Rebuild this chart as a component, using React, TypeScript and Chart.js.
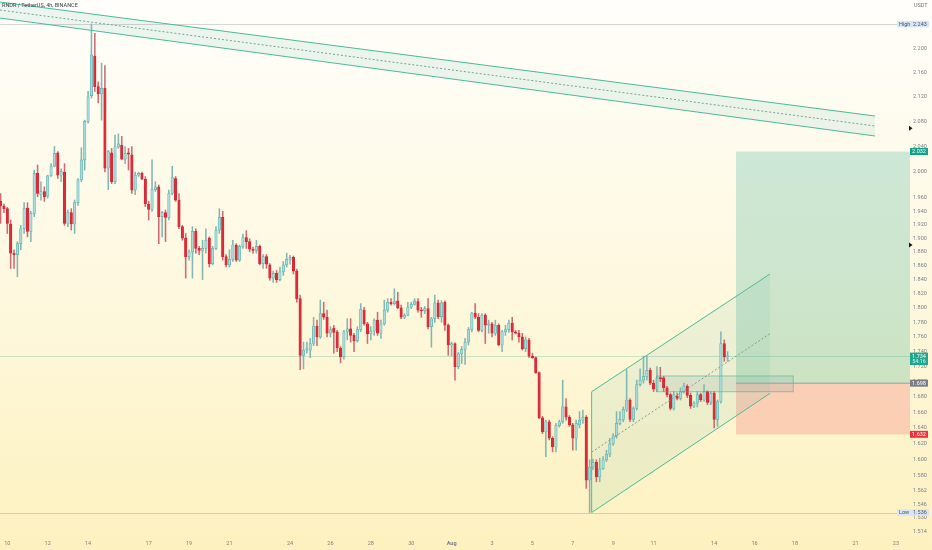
import React, { useEffect, useRef } from 'react';
import { Chart, registerables } from 'chart.js';

Chart.register(...registerables);

const TITLE = 'RNDR / TetherUS, 4h, BINANCE';
const CURRENCY = 'USDT';
const FONT = "Roboto, 'Liberation Sans', sans-serif";

// candle index 0 = 10 Jul 00:00, one unit = one 4h candle
const FIRST_INDEX = -2;
const OPEN = [
  1.955, 1.948, 1.944, 1.921, 1.878, 1.876, 1.892, 1.914, 1.945, 1.910,
  1.937, 1.998, 1.965, 1.970, 1.963, 1.994, 2.009, 2.030, 1.995, 2.000,
  1.921, 1.938, 1.921, 1.953, 1.988, 2.019, 2.080, 2.122, 2.188, 2.137,
  2.125, 2.134, 2.006, 2.030, 1.985, 2.039, 2.042, 2.020, 2.030, 2.027,
  1.972, 1.995, 1.998, 1.989, 1.951, 1.943, 1.973, 1.977, 1.932, 1.938,
  1.931, 1.967, 1.990, 1.957, 1.917, 1.900, 1.873, 1.880, 1.910, 1.885,
  1.882, 1.885, 1.900, 1.863, 1.885, 1.912, 1.931, 1.873, 1.861, 1.869,
  1.890, 1.868, 1.888, 1.901, 1.895, 1.884, 1.882, 1.888, 1.863, 1.873,
  1.861, 1.842, 1.849, 1.840, 1.851, 1.861, 1.869, 1.872, 1.852, 1.813,
  1.735, 1.742, 1.742, 1.751, 1.775, 1.760, 1.792, 1.787, 1.765, 1.772,
  1.767, 1.745, 1.733, 1.767, 1.771, 1.762, 1.755, 1.770, 1.797, 1.778,
  1.764, 1.768, 1.783, 1.765, 1.778, 1.797, 1.808, 1.806, 1.810, 1.800,
  1.787, 1.790, 1.801, 1.805, 1.809, 1.797, 1.796, 1.799, 1.774, 1.785,
  1.807, 1.788, 1.808, 1.776, 1.749, 1.751, 1.720, 1.737, 1.743, 1.753,
  1.770, 1.793, 1.787, 1.769, 1.790, 1.776, 1.778, 1.765, 1.776, 1.749,
  1.767, 1.770, 1.779, 1.767, 1.765, 1.760, 1.744, 1.756, 1.734, 1.732,
  1.712, 1.653, 1.635, 1.648, 1.627, 1.616, 1.643, 1.648, 1.667, 1.654,
  1.644, 1.627, 1.644, 1.650, 1.654, 1.575, 1.591, 1.597, 1.579, 1.589,
  1.600, 1.607, 1.620, 1.630, 1.646, 1.651, 1.664, 1.676, 1.651, 1.665,
  1.696, 1.702, 1.707, 1.715, 1.698, 1.690, 1.705, 1.705, 1.692, 1.683,
  1.665, 1.681, 1.678, 1.687, 1.694, 1.682, 1.668, 1.672, 1.683, 1.676,
  1.687, 1.673, 1.685, 1.651, 1.674, 1.751, 1.733,
];
const HIGH = [
  1.967, 1.951, 1.946, 1.927, 1.883, 1.895, 1.919, 1.953, 1.953, 1.940,
  2.003, 2.011, 1.985, 1.977, 1.995, 2.013, 2.040, 2.032, 2.005, 2.013,
  1.942, 1.944, 1.957, 1.990, 2.038, 2.082, 2.129, 2.243, 2.227, 2.145,
  2.176, 2.172, 2.034, 2.037, 2.058, 2.060, 2.056, 2.040, 2.037, 2.040,
  2.000, 2.000, 2.000, 1.993, 1.955, 2.019, 1.985, 1.980, 1.940, 1.942,
  1.972, 2.009, 1.993, 1.967, 1.919, 1.907, 1.883, 1.917, 1.914, 1.888,
  1.897, 1.914, 1.902, 1.888, 1.917, 1.944, 1.940, 1.876, 1.883, 1.897,
  1.892, 1.890, 1.906, 1.911, 1.899, 1.887, 1.897, 1.890, 1.876, 1.876,
  1.863, 1.852, 1.853, 1.858, 1.866, 1.878, 1.875, 1.874, 1.855, 1.818,
  1.753, 1.753, 1.758, 1.787, 1.783, 1.811, 1.808, 1.797, 1.774, 1.776,
  1.769, 1.747, 1.769, 1.785, 1.785, 1.765, 1.774, 1.806, 1.801, 1.780,
  1.774, 1.785, 1.794, 1.783, 1.811, 1.813, 1.813, 1.827, 1.822, 1.804,
  1.792, 1.808, 1.808, 1.813, 1.813, 1.801, 1.802, 1.813, 1.787, 1.818,
  1.811, 1.810, 1.810, 1.778, 1.753, 1.752, 1.739, 1.747, 1.758, 1.773,
  1.794, 1.806, 1.792, 1.792, 1.792, 1.783, 1.780, 1.783, 1.778, 1.769,
  1.776, 1.783, 1.787, 1.769, 1.769, 1.765, 1.760, 1.758, 1.738, 1.733,
  1.713, 1.655, 1.650, 1.650, 1.629, 1.646, 1.650, 1.702, 1.678, 1.656,
  1.646, 1.650, 1.661, 1.663, 1.656, 1.600, 1.601, 1.600, 1.602, 1.604,
  1.612, 1.627, 1.633, 1.661, 1.661, 1.667, 1.716, 1.678, 1.667, 1.702,
  1.717, 1.734, 1.734, 1.718, 1.702, 1.720, 1.719, 1.707, 1.694, 1.685,
  1.687, 1.685, 1.692, 1.698, 1.696, 1.685, 1.674, 1.687, 1.685, 1.696,
  1.688, 1.687, 1.687, 1.676, 1.767, 1.756, 1.740,
];
const LOW = [
  1.922, 1.938, 1.907, 1.856, 1.856, 1.844, 1.883, 1.907, 1.902, 1.895,
  1.932, 1.962, 1.957, 1.955, 1.960, 1.993, 2.008, 1.990, 1.985, 1.919,
  1.917, 1.912, 1.907, 1.949, 1.985, 2.003, 2.077, 2.118, 2.129, 2.110,
  2.082, 2.000, 1.973, 1.982, 1.982, 2.037, 2.019, 2.013, 2.003, 1.967,
  1.965, 1.993, 1.988, 1.947, 1.927, 1.940, 1.970, 1.892, 1.902, 1.895,
  1.927, 1.965, 1.955, 1.914, 1.897, 1.842, 1.868, 1.842, 1.878, 1.876,
  1.840, 1.878, 1.858, 1.861, 1.883, 1.907, 1.868, 1.858, 1.858, 1.866,
  1.866, 1.866, 1.885, 1.885, 1.880, 1.878, 1.878, 1.861, 1.856, 1.856,
  1.839, 1.836, 1.836, 1.838, 1.846, 1.858, 1.862, 1.848, 1.808, 1.716,
  1.717, 1.738, 1.732, 1.748, 1.748, 1.758, 1.784, 1.760, 1.760, 1.738,
  1.740, 1.725, 1.730, 1.756, 1.753, 1.740, 1.753, 1.767, 1.776, 1.751,
  1.756, 1.762, 1.762, 1.758, 1.776, 1.794, 1.804, 1.804, 1.799, 1.785,
  1.785, 1.789, 1.799, 1.804, 1.794, 1.787, 1.792, 1.771, 1.746, 1.780,
  1.785, 1.780, 1.769, 1.735, 1.734, 1.702, 1.717, 1.724, 1.723, 1.749,
  1.767, 1.785, 1.767, 1.767, 1.751, 1.765, 1.760, 1.762, 1.748, 1.740,
  1.762, 1.766, 1.756, 1.764, 1.753, 1.742, 1.740, 1.732, 1.731, 1.711,
  1.652, 1.633, 1.604, 1.625, 1.610, 1.610, 1.641, 1.646, 1.650, 1.642,
  1.612, 1.612, 1.640, 1.646, 1.565, 1.536, 1.588, 1.573, 1.573, 1.588,
  1.598, 1.604, 1.618, 1.627, 1.644, 1.648, 1.661, 1.648, 1.648, 1.663,
  1.694, 1.698, 1.702, 1.696, 1.687, 1.687, 1.700, 1.687, 1.680, 1.663,
  1.663, 1.676, 1.676, 1.685, 1.679, 1.665, 1.666, 1.667, 1.674, 1.674,
  1.670, 1.670, 1.640, 1.642, 1.672, 1.727, 1.727,
];
const CLOSE = [
  1.948, 1.944, 1.922, 1.878, 1.876, 1.892, 1.914, 1.944, 1.910, 1.937,
  1.998, 1.967, 1.970, 1.962, 1.994, 2.009, 2.029, 1.995, 2.001, 1.922,
  1.938, 1.921, 1.953, 1.988, 2.019, 2.080, 2.120, 2.190, 2.137, 2.125,
  2.134, 2.006, 2.032, 1.985, 2.040, 2.044, 2.020, 2.029, 2.028, 1.972,
  1.995, 1.998, 1.989, 1.951, 1.943, 1.973, 1.977, 1.932, 1.938, 1.931,
  1.967, 1.992, 1.957, 1.917, 1.900, 1.873, 1.880, 1.910, 1.885, 1.882,
  1.885, 1.897, 1.863, 1.885, 1.912, 1.931, 1.873, 1.861, 1.869, 1.890,
  1.868, 1.888, 1.901, 1.895, 1.884, 1.882, 1.888, 1.863, 1.873, 1.862,
  1.842, 1.849, 1.840, 1.851, 1.861, 1.869, 1.872, 1.852, 1.813, 1.735,
  1.742, 1.744, 1.751, 1.775, 1.760, 1.792, 1.787, 1.765, 1.770, 1.766,
  1.745, 1.733, 1.767, 1.771, 1.762, 1.755, 1.770, 1.798, 1.778, 1.764,
  1.768, 1.783, 1.765, 1.778, 1.797, 1.808, 1.806, 1.809, 1.800, 1.787,
  1.790, 1.801, 1.805, 1.810, 1.797, 1.796, 1.799, 1.774, 1.785, 1.807,
  1.788, 1.807, 1.776, 1.749, 1.751, 1.720, 1.737, 1.743, 1.753, 1.770,
  1.793, 1.787, 1.769, 1.790, 1.776, 1.778, 1.765, 1.776, 1.749, 1.767,
  1.770, 1.779, 1.767, 1.765, 1.760, 1.744, 1.756, 1.734, 1.732, 1.712,
  1.653, 1.635, 1.648, 1.627, 1.616, 1.643, 1.648, 1.667, 1.654, 1.644,
  1.627, 1.646, 1.650, 1.654, 1.575, 1.591, 1.597, 1.579, 1.589, 1.600,
  1.607, 1.620, 1.630, 1.646, 1.651, 1.664, 1.676, 1.651, 1.665, 1.696,
  1.702, 1.707, 1.715, 1.698, 1.690, 1.705, 1.704, 1.692, 1.683, 1.665,
  1.683, 1.678, 1.687, 1.694, 1.682, 1.668, 1.672, 1.683, 1.676, 1.687,
  1.673, 1.685, 1.651, 1.674, 1.751, 1.733, 1.734,
];

const X_TICK_INDEX = [0, 12, 24, 42, 54, 66, 84, 96, 108, 120, 132, 144, 156, 168, 180, 192, 210, 222, 234, 252, 264];
const X_TICK_LABEL = ['10', '12', '14', '17', '19', '21', '24', '26', '28', '30', 'Aug', '3', '5', '7', '9', '11', '14', '16', '18', '21', '23'];
const Y_TICKS = [2.2, 2.16, 2.12, 2.08, 2.04, 2.0, 1.96, 1.94, 1.92, 1.9, 1.88, 1.86, 1.84, 1.82, 1.8, 1.78, 1.76, 1.74, 1.72, 1.7, 1.68, 1.66, 1.64, 1.62, 1.6, 1.58, 1.562, 1.546, 1.53, 1.514];
const X_RANGE = [-2.169, 268.18];
const Y_RANGE = [1.5083, 2.2853];

// drawings (candle index, price)
const DESC_X = [-2.2, 257.8];
const DESC_UPPER = [2.2817, 2.0887];
const DESC_LOWER = [2.2536, 2.0566];
const ASC_X = [173.6, 226.6];
const ASC_UPPER = [1.6868, 1.848];
const ASC_LOWER = [1.536, 1.6847];
const POSITION_X = [216.5, 272];
const TARGET = 2.032;
const ENTRY = 1.698;
const STOP = 1.632;
const RANGE_X = [192.9, 233.5];
const RANGE_P = [1.7075, 1.6868];
const HIGH_PRICE = 2.243;
const LOW_PRICE = 1.536;
const LAST_PRICE = 1.734;
const COUNTDOWN = '54:16';
const MARKER_PRICES = [2.069, 1.89];

const fmt = (v: number) => v.toFixed(3);

const decor = {
  id: 'decor',
  beforeDraw(chart: any) {
    const { ctx, width, height } = chart;
    const g = ctx.createLinearGradient(0, 0, 0, height);
    g.addColorStop(0, '#fffefa');
    g.addColorStop(0.45, '#fef9e3');
    g.addColorStop(1, '#fdf1bf');
    ctx.save();
    ctx.fillStyle = g;
    ctx.fillRect(0, 0, width, height);
    ctx.restore();
  },
  beforeDatasetsDraw(chart: any) {
    const { ctx, chartArea: a } = chart;
    const xs = chart.scales.x;
    const ys = chart.scales.y;
    const X = (i: number) => xs.getPixelForValue(i);
    const Y = (p: number) => ys.getPixelForValue(p);
    ctx.save();
    ctx.beginPath();
    ctx.rect(a.left, a.top, a.right - a.left, a.bottom - a.top);
    ctx.clip();
    // position box
    ctx.fillStyle = 'rgba(8,153,129,0.2)';
    ctx.fillRect(X(POSITION_X[0]), Y(TARGET), X(POSITION_X[1]) - X(POSITION_X[0]), Y(ENTRY) - Y(TARGET));
    ctx.fillStyle = 'rgba(242,54,69,0.2)';
    ctx.fillRect(X(POSITION_X[0]), Y(ENTRY), X(POSITION_X[1]) - X(POSITION_X[0]), Y(STOP) - Y(ENTRY));
    // descending channel fill
    ctx.fillStyle = 'rgba(34,171,148,0.09)';
    ctx.beginPath();
    ctx.moveTo(X(DESC_X[0]), Y(DESC_UPPER[0]));
    ctx.lineTo(X(DESC_X[1]), Y(DESC_UPPER[1]));
    ctx.lineTo(X(DESC_X[1]), Y(DESC_LOWER[1]));
    ctx.lineTo(X(DESC_X[0]), Y(DESC_LOWER[0]));
    ctx.closePath();
    ctx.fill();
    // ascending channel fill
    ctx.fillStyle = 'rgba(34,171,148,0.08)';
    ctx.beginPath();
    ctx.moveTo(X(ASC_X[0]), Y(ASC_UPPER[0]));
    ctx.lineTo(X(ASC_X[1]), Y(ASC_UPPER[1]));
    ctx.lineTo(X(ASC_X[1]), Y(ASC_LOWER[1]));
    ctx.lineTo(X(ASC_X[0]), Y(ASC_LOWER[0]));
    ctx.closePath();
    ctx.fill();
    // range rectangle
    ctx.fillStyle = 'rgba(110,160,160,0.16)';
    ctx.fillRect(X(RANGE_X[0]), Y(RANGE_P[0]), X(RANGE_X[1]) - X(RANGE_X[0]), Y(RANGE_P[1]) - Y(RANGE_P[0]));
    // horizontal lines
    ctx.lineWidth = 1;
    ctx.strokeStyle = 'rgba(120,123,134,0.3)';
    [HIGH_PRICE, LOW_PRICE].forEach((p) => {
      const y = Math.round(Y(p)) + 0.5;
      ctx.beginPath();
      ctx.moveTo(a.left, y);
      ctx.lineTo(a.right, y);
      ctx.stroke();
    });
    ctx.strokeStyle = 'rgba(60,160,140,0.25)';
    const yl = Math.round(Y(LAST_PRICE)) + 0.5;
    ctx.beginPath();
    ctx.moveTo(a.left, yl);
    ctx.lineTo(a.right, yl);
    ctx.stroke();
    ctx.restore();
  },
  afterDatasetsDraw(chart: any) {
    const { ctx, chartArea: a } = chart;
    const xs = chart.scales.x;
    const ys = chart.scales.y;
    const X = (i: number) => xs.getPixelForValue(i);
    const Y = (p: number) => ys.getPixelForValue(p);
    ctx.save();
    ctx.beginPath();
    ctx.rect(a.left, a.top, a.right - a.left, a.bottom - a.top);
    ctx.clip();
    const line = (x0: number, y0: number, x1: number, y1: number) => {
      ctx.beginPath();
      ctx.moveTo(x0, y0);
      ctx.lineTo(x1, y1);
      ctx.stroke();
    };
    // descending channel
    ctx.strokeStyle = '#4db89e';
    ctx.lineWidth = 1;
    line(X(DESC_X[0]), Y(DESC_UPPER[0]), X(DESC_X[1]), Y(DESC_UPPER[1]));
    line(X(DESC_X[0]), Y(DESC_LOWER[0]), X(DESC_X[1]), Y(DESC_LOWER[1]));
    ctx.setLineDash([2, 2]);
    ctx.strokeStyle = '#7c9f98';
    line(X(DESC_X[0]), (Y(DESC_UPPER[0]) + Y(DESC_LOWER[0])) / 2, X(DESC_X[1]), (Y(DESC_UPPER[1]) + Y(DESC_LOWER[1])) / 2);
    line(X(ASC_X[0]), (Y(ASC_UPPER[0]) + Y(ASC_LOWER[0])) / 2, X(ASC_X[1]), (Y(ASC_UPPER[1]) + Y(ASC_LOWER[1])) / 2);
    ctx.setLineDash([]);
    // ascending channel
    ctx.strokeStyle = '#4dbb9c';
    line(X(ASC_X[0]), Y(ASC_UPPER[0]), X(ASC_X[1]), Y(ASC_UPPER[1]));
    line(X(ASC_X[0]), Y(ASC_LOWER[0]), X(ASC_X[1]), Y(ASC_LOWER[1]));
    line(X(ASC_X[0]), Y(ASC_UPPER[0]), X(ASC_X[0]), Y(ASC_LOWER[0]));
    // range rectangle border
    ctx.strokeStyle = 'rgba(70,170,150,0.55)';
    ctx.strokeRect(X(RANGE_X[0]), Y(RANGE_P[0]), X(RANGE_X[1]) - X(RANGE_X[0]), Y(RANGE_P[1]) - Y(RANGE_P[0]));
    // entry line
    ctx.strokeStyle = '#9a9ca5';
    line(X(POSITION_X[0]), Y(ENTRY), X(POSITION_X[1]), Y(ENTRY));
    ctx.restore();
  },
  afterDraw(chart: any) {
    const { ctx, chartArea: a } = chart;
    const ys = chart.scales.y;
    const Y = (p: number) => ys.getPixelForValue(p);
    const r = a.right;
    ctx.save();
    ctx.font = `5.5px ${FONT}`;
    ctx.textBaseline = 'middle';
    // title + currency
    ctx.fillStyle = '#3b3f4a';
    ctx.textAlign = 'left';
    ctx.fillText(TITLE, 2, 5.5);
    ctx.fillStyle = '#6f727c';
    ctx.fillText(CURRENCY, r + 4, 6);
    const priceTag = (p: number, bg: string, fg: string) => {
      const y = Y(p);
      ctx.fillStyle = bg;
      ctx.fillRect(r, y - 3.5, 18, 7);
      ctx.fillStyle = fg;
      ctx.textAlign = 'center';
      ctx.fillText(fmt(p), r + 9, y + 0.2);
    };
    const hlTag = (p: number, word: string) => {
      const y = Y(p);
      ctx.fillStyle = '#d7e6f5';
      ctx.fillRect(r - 13, y - 3.3, 32, 6.6);
      ctx.fillStyle = '#4e5260';
      ctx.textAlign = 'left';
      ctx.fillText(word, r - 11, y + 0.2);
      ctx.fillText(fmt(p), r + 3, y + 0.2);
    };
    hlTag(HIGH_PRICE, 'High');
    hlTag(LOW_PRICE, 'Low');
    priceTag(TARGET, '#12a086', '#ffffff');
    priceTag(ENTRY, '#7b7e89', '#ffffff');
    priceTag(STOP, '#f0323f', '#ffffff');
    // last price with countdown
    const yl = Y(LAST_PRICE);
    ctx.fillStyle = '#1fa68e';
    ctx.fillRect(r, yl - 3.5, 18, 12.5);
    ctx.fillStyle = '#ffffff';
    ctx.textAlign = 'center';
    ctx.fillText(fmt(LAST_PRICE), r + 9, yl + 0.2);
    ctx.fillStyle = '#d8f2ec';
    ctx.fillText(COUNTDOWN, r + 9, yl + 6);
    // markers
    ctx.fillStyle = '#131722';
    MARKER_PRICES.forEach((p) => {
      const y = Y(p);
      ctx.beginPath();
      ctx.moveTo(r - 1, y - 2.5);
      ctx.lineTo(r + 2.5, y);
      ctx.lineTo(r - 1, y + 2.5);
      ctx.closePath();
      ctx.fill();
    });
    ctx.restore();
  },
};

export default function App() {
  const ref = useRef<HTMLCanvasElement>(null);
  useEffect(() => {
    document.body.style.margin = '0';
    const canvas = ref.current;
    if (!canvas) return;
    const idx = OPEN.map((_, k) => FIRST_INDEX + k);
    const up = OPEN.map((o, k) => CLOSE[k] >= o);
    const chart = new Chart(canvas, {
      type: 'bar',
      data: {
        datasets: [
          {
            data: idx.map((x, k) => ({ x, y: [OPEN[k], CLOSE[k]] })) as any,
            backgroundColor: up.map((u) => (u ? '#a8dbdc' : '#dd2c39')),
            borderColor: up.map((u) => (u ? '#5fb3ad' : '#d22633')),
            borderWidth: 0.7,
            borderSkipped: false,
            barThickness: 2.5,
            minBarLength: 1,
            grouped: false,
          } as any,
          {
            data: idx.map((x, k) => ({ x, y: [LOW[k], HIGH[k]] })) as any,
            backgroundColor: up.map((u) => (u ? '#80b7b1' : '#cf6a73')),
            borderWidth: 0,
            barThickness: 0.9,
            grouped: false,
          } as any,
        ],
      },
      options: {
        animation: false,
        responsive: false,
        maintainAspectRatio: false,
        devicePixelRatio: 1,
        events: [],
        layout: { padding: 0 },
        plugins: { legend: { display: false }, tooltip: { enabled: false } },
        scales: {
          x: {
            type: 'linear',
            min: X_RANGE[0],
            max: X_RANGE[1],
            offset: false,
            grid: { display: false, drawTicks: false },
            border: { display: false },
            ticks: {
              autoSkip: false,
              maxRotation: 0,
              padding: 4,
              color: '#7c7f89',
              font: (c: any) => ({
                family: FONT,
                size: 5.5,
                weight: c.tick && X_TICK_LABEL[X_TICK_INDEX.indexOf(c.tick.value)] === 'Aug' ? 'bold' : 'normal',
              }),
              callback: (v: any) => {
                const k = X_TICK_INDEX.indexOf(Number(v));
                return k >= 0 ? X_TICK_LABEL[k] : '';
              },
            },
            afterBuildTicks: (s: any) => {
              s.ticks = X_TICK_INDEX.map((v) => ({ value: v }));
            },
            afterFit: (s: any) => {
              s.height = 14;
              s.paddingLeft = 0;
              s.paddingRight = 0;
            },
          } as any,
          y: {
            type: 'logarithmic',
            position: 'right',
            min: Y_RANGE[0],
            max: Y_RANGE[1],
            bounds: 'data',
            beginAtZero: false,
            grid: { display: false, drawTicks: false },
            border: { display: false },
            ticks: {
              autoSkip: false,
              padding: 3,
              color: '#7c7f89',
              font: { family: FONT, size: 5.5 },
              callback: (v: any) => fmt(Number(v)),
            },
            afterBuildTicks: (s: any) => {
              s.ticks = Y_TICKS.map((v) => ({ value: v }));
            },
            afterFit: (s: any) => {
              s.width = 22;
              s.paddingTop = 0;
              s.paddingBottom = 0;
            },
          } as any,
        },
      },
      plugins: [decor],
    } as any);
    return () => chart.destroy();
  }, []);
  return (
    <div style={{ position: 'absolute', left: 0, top: 0, width: 932, height: 550 }}>
      <canvas ref={ref} width={932} height={550} style={{ display: 'block', width: 932, height: 550 }} />
    </div>
  );
}
